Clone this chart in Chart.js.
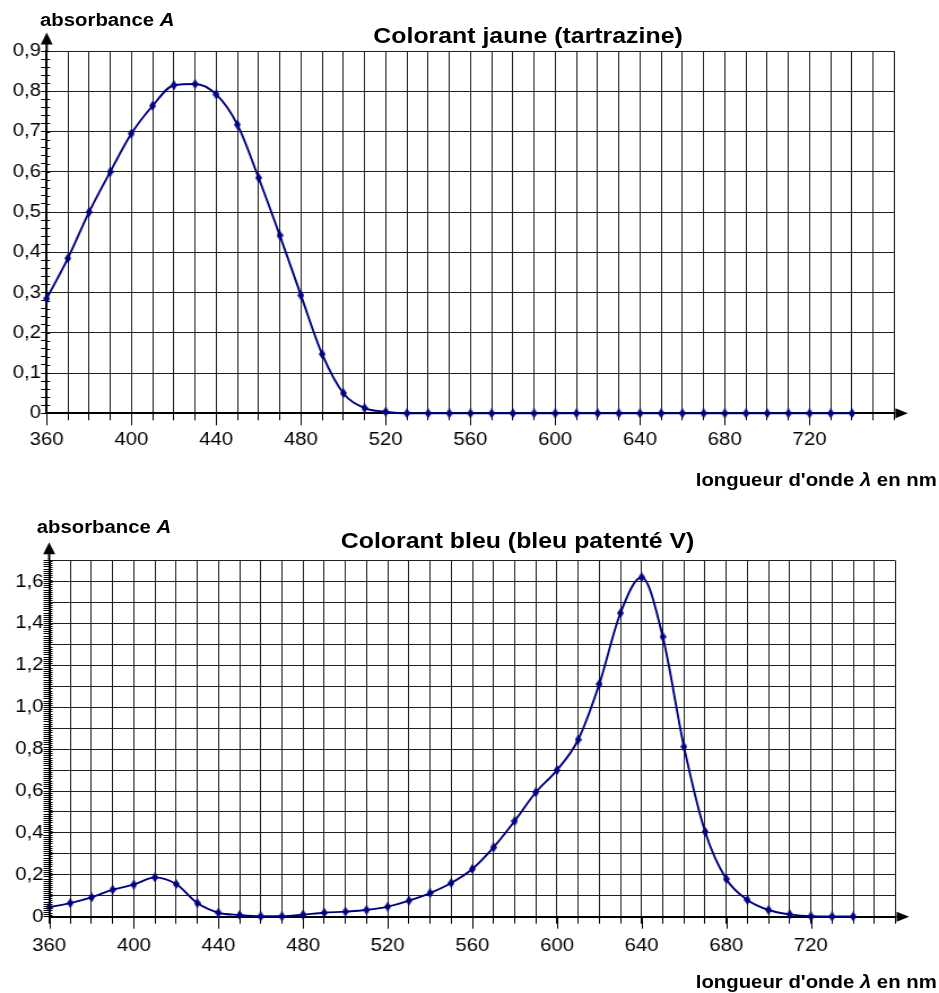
<!DOCTYPE html>
<html>
<head>
<meta charset="utf-8">
<script src="https://cdn.jsdelivr.net/npm/chart.js@4/dist/chart.umd.min.js"></script>
<style>
  html, body { margin: 0; padding: 0; background: #fff; }
  #page { position: absolute; left: 0; top: 0; width: 831px; height: 993px; transform: scaleX(1.13); transform-origin: 0 0; }
  canvas { position: absolute; left: 0; }
  .t { position: absolute; font-family: 'Liberation Sans', Arial, Helvetica, sans-serif; font-weight: bold; line-height: 1; white-space: nowrap; color: #000; }
  .h { font-size: 22px; transform: translateX(-50%); }
  .s { font-size: 18px; }
</style>
</head>
<body>
<div id="page">
  <div class="t s" style="left:35.4px; top:10.8px;">absorbance <i>A</i></div>
  <div class="t h" style="left:467.3px; top:25.4px;">Colorant jaune (tartrazine)</div>
  <canvas id="chartJaune" width="831" height="495" style="top:0;"></canvas>
  <div class="t s" style="right:2px; top:470.8px;">longueur d'onde <i>λ</i> en nm</div>

  <div class="t s" style="left:32.5px; top:517.5px;">absorbance <i>A</i></div>
  <div class="t h" style="left:458px; top:530.4px;">Colorant bleu (bleu patenté V)</div>
  <canvas id="chartBleu" width="831" height="498" style="top:495px;"></canvas>
  <div class="t s" style="right:2px; top:972.8px;">longueur d'onde <i>λ</i> en nm</div>
</div>
<script>
// ---- Data ----
const wavelengths = [360, 370, 380, 390, 400, 410, 420, 430, 440, 450, 460, 470, 480, 490, 500,
  510, 520, 530, 540, 550, 560, 570, 580, 590, 600, 610, 620, 630, 640, 650, 660, 670, 680,
  690, 700, 710, 720, 730, 740];

const absJaune = [0.285, 0.385, 0.50, 0.60, 0.695, 0.764, 0.815, 0.818, 0.792, 0.717, 0.585,
  0.442, 0.293, 0.147, 0.05, 0.013, 0.004, 0, 0, 0, 0, 0, 0, 0, 0, 0, 0, 0, 0, 0, 0, 0, 0,
  0, 0, 0, 0, 0, 0];

const absBleu = [0.045, 0.065, 0.092, 0.129, 0.153, 0.188, 0.156, 0.065, 0.019, 0.008, 0.002,
  0.002, 0.01, 0.019, 0.024, 0.032, 0.048, 0.077, 0.113, 0.161, 0.228, 0.331, 0.457, 0.594,
  0.70, 0.845, 1.111, 1.45, 1.621, 1.337, 0.812, 0.406, 0.18, 0.08, 0.032, 0.011, 0.002,
  0.001, 0.001];

const xLabels = [360, 400, 440, 480, 520, 560, 600, 640, 680, 720];

// ---- Shared styles ----
const FONT = "'Liberation Sans', Arial, Helvetica, sans-serif";
const NAVY = '#000080';
const GRID = '#1f1f1f';
Chart.defaults.color = '#000';

// diamond marker
const diamond = document.createElement('canvas');
diamond.width = 6; diamond.height = 10;
const dctx = diamond.getContext('2d');
dctx.fillStyle = NAVY;
dctx.beginPath();
dctx.moveTo(3, 0); dctx.lineTo(6, 5); dctx.lineTo(3, 10); dctx.lineTo(0, 5);
dctx.closePath(); dctx.fill();

function decimal(c) {
  return c === 0 ? '0' : (c / 100).toFixed(1).replace('.', ',');
}

// arrows at the ends of both axes, ticks crossing the y axis, longer major x ticks
const axisArrows = {
  id: 'axisArrows',
  afterDraw(chart) {
    const { ctx, scales: { x, y } } = chart;
    ctx.save();
    ctx.fillStyle = '#000';
    ctx.strokeStyle = '#000';
    ctx.lineWidth = 1;
    ctx.beginPath();
    y.ticks.forEach(t => {
      const py = Math.round(y.getPixelForValue(t.value)) + 0.5;
      ctx.moveTo(x.left, py); ctx.lineTo(x.left + 3, py);
    });
    xLabels.forEach(v => {
      const px = Math.round(x.getPixelForValue(v)) + 0.5;
      ctx.moveTo(px, y.bottom); ctx.lineTo(px, y.bottom + 12);
    });
    ctx.stroke();
    ctx.lineWidth = 2;
    ctx.beginPath();
    ctx.moveTo(x.left, y.top); ctx.lineTo(x.left, y.top - 7);
    ctx.moveTo(x.right, y.bottom); ctx.lineTo(x.right + 1, y.bottom);
    ctx.stroke();
    ctx.beginPath();
    ctx.moveTo(x.left - 5.3, y.top - 6.5);
    ctx.lineTo(x.left + 5.3, y.top - 6.5);
    ctx.lineTo(x.left, y.top - 18.5);
    ctx.closePath();
    ctx.fill();
    ctx.beginPath();
    ctx.moveTo(x.right + 1, y.bottom - 5);
    ctx.lineTo(x.right + 1, y.bottom + 5);
    ctx.lineTo(x.right + 12, y.bottom);
    ctx.closePath();
    ctx.fill();
    ctx.restore();
  }
};

function makeChart(id, values, cfg) {
  return new Chart(document.getElementById(id), {
    type: 'line',
    data: {
      datasets: [{
        data: wavelengths.map((w, i) => ({ x: w, y: values[i] })),
        borderColor: NAVY,
        borderWidth: 1.9,
        cubicInterpolationMode: 'monotone',
        pointStyle: diamond,
        pointRadius: 5,
        clip: false,
      }]
    },
    options: {
      responsive: false,
      animation: false,
      layout: { padding: cfg.padding },
      plugins: { legend: { display: false }, tooltip: { enabled: false } },
      scales: {
        x: {
          type: 'linear', min: 360, max: 760,
          afterFit: s => { s.height = 40; },
          ticks: {
            stepSize: 10, autoSkip: false, maxRotation: 0, padding: cfg.xPad,
            font: { family: FONT, size: 18 },
            callback: v => xLabels.includes(v) ? String(v) : ''
          },
          grid: { color: GRID, lineWidth: 1, tickLength: 7, tickColor: '#000' },
          border: { color: '#000', width: 2 }
        },
        y: {
          min: 0, max: cfg.yMax,
          afterFit: s => { s.width = cfg.yWidth; },
          ticks: {
            stepSize: cfg.minor, autoSkip: false, padding: 0,
            font: { family: FONT, size: 18 },
            callback: v => {
              const c = Math.round(v * 100);
              return c % cfg.labelEvery ? '' : decimal(c);
            }
          },
          grid: {
            color: c => (c.tick && Math.round(c.tick.value * 100) % 10 === 0) ? GRID : 'rgba(0,0,0,0)',
            tickLength: 5, tickColor: '#000', tickWidth: 1
          },
          border: { color: '#000', width: 2 }
        }
      }
    },
    plugins: [axisArrows]
  });
}

makeChart('chartJaune', absJaune, {
  padding: { left: 0, right: 39.6, top: 51, bottom: 41.7 },
  yMax: 0.9, yWidth: 41.3, minor: 0.02, labelEvery: 10, xPad: 9
});

makeChart('chartBleu', absBleu, {
  padding: { left: 0, right: 38.5, top: 65.7, bottom: 36.3 },
  yMax: 1.7, yWidth: 43.5, minor: 0.01, labelEvery: 20, xPad: 12
});
</script>
</body>
</html>
